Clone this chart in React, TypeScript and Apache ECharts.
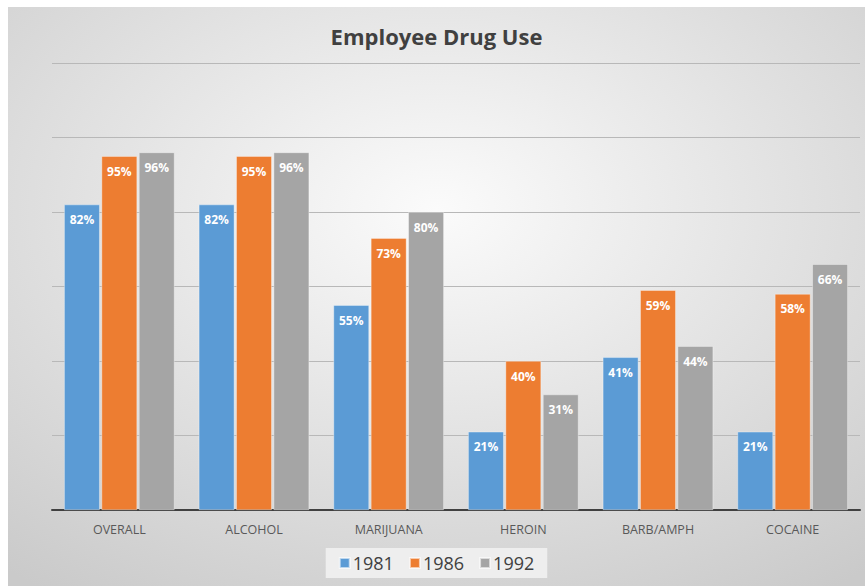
import React, { useEffect, useRef } from "react";
import * as echarts from "echarts";

const categories = ["OVERALL", "ALCOHOL", "MARIJUANA", "HEROIN", "BARB/AMPH", "COCAINE"];
const seriesNames = ["1981", "1986", "1992"];
const values1981 = [82, 82, 55, 21, 41, 21];
const values1986 = [95, 95, 73, 40, 59, 58];
const values1992 = [96, 96, 80, 31, 44, 66];
const colors = ["#5B9BD5", "#ED7D31", "#A5A5A5"];

const FONT = "'Open Sans', 'Noto Sans', sans-serif";

export default function App() {
  const ref = useRef<HTMLDivElement>(null);
  useEffect(() => {
    if (!ref.current) return;
    const chart = echarts.init(ref.current, null, { renderer: "svg" });
    const allValues = [values1981, values1986, values1992];
    chart.setOption({
      animation: false,
      backgroundColor: new echarts.graphic.RadialGradient(0.5, 0.35, 0.8, [
        { offset: 0, color: "#fbfbfb" },
        { offset: 1, color: "#cacaca" },
      ]),
      title: {
        text: "Employee Drug Use",
        left: "center",
        top: 13,
        textStyle: { fontFamily: FONT, fontSize: 22, fontWeight: "bold", color: "#404040" },
      },
      legend: {
        data: seriesNames,
        left: "center",
        top: 541,
        backgroundColor: "rgba(242,242,242,0.85)",
        padding: [6, 13],
        itemWidth: 10,
        itemHeight: 10,
        itemGap: 15,
        icon: "rect",
        textStyle: { fontFamily: FONT, fontSize: 18, color: "#404040", padding: [0, 0, 0, -2] },
      },
      grid: { left: 44, right: 5, top: 56, bottom: 76 },
      xAxis: {
        type: "category",
        data: categories,
        axisTick: { show: false },
        axisLine: { lineStyle: { color: "#404040", width: 2 } },
        axisLabel: { fontFamily: FONT, fontSize: 12.5, color: "#595959", margin: 13 },
      },
      yAxis: {
        type: "value",
        min: 0,
        max: 120,
        interval: 20,
        axisLabel: { show: false },
        axisLine: { show: false },
        axisTick: { show: false },
        splitLine: { lineStyle: { color: "#b8b8b8", width: 1 } },
      },
      series: seriesNames.map((name, i) => ({
        name,
        type: "bar",
        data: allValues[i],
        barGap: "5%",
        barCategoryGap: "18%",
        itemStyle: { color: colors[i], borderColor: "rgba(255,255,255,0.6)", borderWidth: 0.6 },
        label: {
          show: true,
          position: "insideTop",
          distance: 9,
          formatter: "{c}%",
          fontFamily: FONT,
          fontSize: 12,
          fontWeight: "bold",
          color: "#ffffff",
        },
      })),
    });
    return () => chart.dispose();
  }, []);
  return (
    <div style={{ position: "fixed", left: 0, top: 0, width: 865, height: 586, background: "#ffffff", overflow: "hidden" }}>
      <div ref={ref} style={{ position: "absolute", left: 8, top: 7, width: 857, height: 579 }} />
    </div>
  );
}
